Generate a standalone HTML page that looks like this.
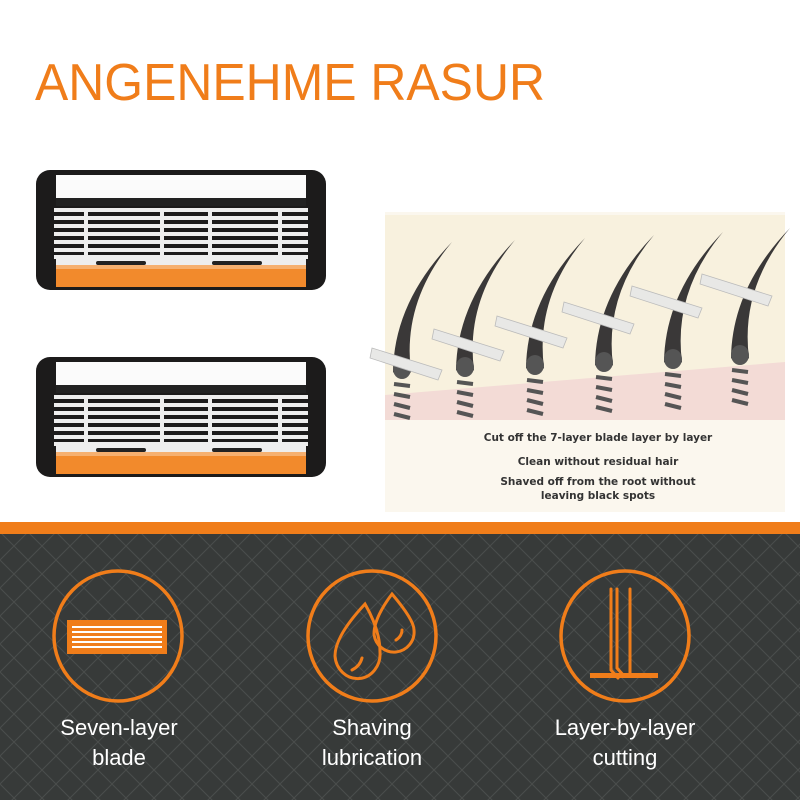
<!DOCTYPE html>
<html><head><meta charset="utf-8"><style>
html,body{margin:0;padding:0;background:#fff}
svg{display:block}
</style></head><body>
<svg width="800" height="800" viewBox="0 0 800 800" xmlns="http://www.w3.org/2000/svg">
<defs>
<pattern id="dia" width="28" height="28" patternUnits="userSpaceOnUse">
<path d="M0 0L28 28M28 0L0 28" stroke="#4a4d4c" stroke-width="1"/>
</pattern>
<g id="cart">
<rect x="0" y="0" width="290" height="120" rx="14" fill="#1c1b1b"/>
<rect x="20" y="5" width="250" height="23" fill="#fbfbfb"/>
<rect x="20" y="28" width="250" height="8" fill="#222"/>
<g fill="#eeeeee">
<rect x="18" y="38" width="254" height="4"/>
<rect x="18" y="46" width="254" height="4"/>
<rect x="18" y="54" width="254" height="4"/>
<rect x="18" y="62" width="254" height="4"/>
<rect x="18" y="70" width="254" height="4"/>
<rect x="18" y="78" width="254" height="4"/>
<rect x="18" y="85" width="254" height="4"/>
<rect x="48" y="38" width="4" height="52"/>
<rect x="124" y="38" width="4" height="52"/>
<rect x="172" y="38" width="4" height="52"/>
<rect x="242" y="38" width="4" height="52"/>
<rect x="20" y="89" width="250" height="6"/>
</g>
<rect x="60" y="91" width="50" height="4" fill="#222" rx="2"/>
<rect x="176" y="91" width="50" height="4" fill="#222" rx="2"/>
<rect x="20" y="95" width="250" height="22" fill="#f28a2c"/>
<rect x="20" y="95" width="250" height="4" fill="#f6b070"/>
</g>
<g id="hair">
<path d="M-9 0 Q-8 -70 50 -130 Q0 -70 9 0 Q0 10 -9 0Z" fill="#3a3838"/>
<ellipse cx="0" cy="-3" rx="9" ry="10" fill="#555"/>
<g stroke="#555" stroke-width="4"><line x1="-8" y1="12" x2="8" y2="14"/><line x1="-8" y1="22" x2="8" y2="25"/><line x1="-8" y1="32" x2="8" y2="36"/><line x1="-8" y1="42" x2="8" y2="46"/></g>
</g>
<g id="blade"><path d="M-48 -14 L22 8 L18 18 L-50 -4Z" fill="#e8e8e6" stroke="#bbb" stroke-width="0.8"/></g>
</defs>
<rect width="800" height="800" fill="#fff"/>
<text x="35" y="100" font-family="Liberation Sans, sans-serif" font-size="52" fill="#f07d1a" textLength="510" lengthAdjust="spacingAndGlyphs">ANGENEHME RASUR</text>
<use href="#cart" x="36" y="170"/>
<use href="#cart" x="36" y="357"/>
<rect x="385" y="212" width="400" height="300" fill="#fbf7ee"/>
<rect x="385" y="215" width="400" height="200" fill="#f8f1de"/>
<path d="M385 395 L785 362 L785 420 L385 420Z" fill="#f3dbd6"/>
<g>
<use href="#hair" x="402" y="372"/>
<use href="#hair" x="465" y="370"/>
<use href="#hair" x="535" y="368"/>
<use href="#hair" x="604" y="365"/>
<use href="#hair" x="673" y="362"/>
<use href="#hair" x="740" y="358"/>
</g>
<use href="#blade" x="420" y="362"/>
<use href="#blade" x="482" y="343"/>
<use href="#blade" x="545" y="330"/>
<use href="#blade" x="612" y="316"/>
<use href="#blade" x="680" y="300"/>
<use href="#blade" x="750" y="288"/>
<g font-family="DejaVu Sans, sans-serif" font-weight="bold" font-size="10.5" fill="#333" text-anchor="middle">
<text x="598" y="441">Cut off the 7-layer blade layer by layer</text>
<text x="598" y="465">Clean without residual hair</text>
<text x="598" y="485">Shaved off from the root without</text>
<text x="598" y="499">leaving black spots</text>
</g>
<rect x="0" y="522" width="800" height="12" fill="#f07d1a"/>
<rect x="0" y="534" width="800" height="266" fill="#373a39"/>
<rect x="0" y="534" width="800" height="266" fill="url(#dia)"/>
<g fill="none" stroke="#f07d1a" stroke-width="3.5">
<ellipse cx="118" cy="636" rx="64" ry="65"/>
<ellipse cx="372" cy="636" rx="64" ry="65"/>
<ellipse cx="625" cy="636" rx="64" ry="65"/>
</g>
<rect x="67" y="620" width="100" height="34" fill="#f07d1a"/>
<g stroke="#fff" stroke-width="2"><line x1="72" y1="627" x2="162" y2="627"/><line x1="72" y1="632" x2="162" y2="632"/><line x1="72" y1="637" x2="162" y2="637"/><line x1="72" y1="642" x2="162" y2="642"/><line x1="72" y1="647" x2="162" y2="647"/></g>
<g fill="none" stroke="#f07d1a" stroke-width="3" stroke-linecap="round">
<path d="M365 604 Q380 630 380 652 A22 24 0 0 1 335 656 Q335 636 365 604Z"/>
<path d="M392 594 Q414 620 414 630 A20 20 0 0 1 374 634 Q374 618 392 594Z"/>
<path d="M352 670 Q360 666 362 658"/>
<path d="M396 640 Q402 636 402 630"/>
<path d="M611 589 V670 L618 678 M617 589 V668 L624 676 M630 589 V674"/>
</g>
<rect x="590" y="673" width="68" height="5" fill="#f07d1a"/>
<g font-family="Liberation Sans, sans-serif" font-size="22" fill="#fff" text-anchor="middle">
<text x="119" y="735">Seven-layer</text><text x="119" y="765">blade</text>
<text x="372" y="735">Shaving</text><text x="372" y="765">lubrication</text>
<text x="625" y="735">Layer-by-layer</text><text x="625" y="765">cutting</text>
</g>
</svg>
</body></html>
